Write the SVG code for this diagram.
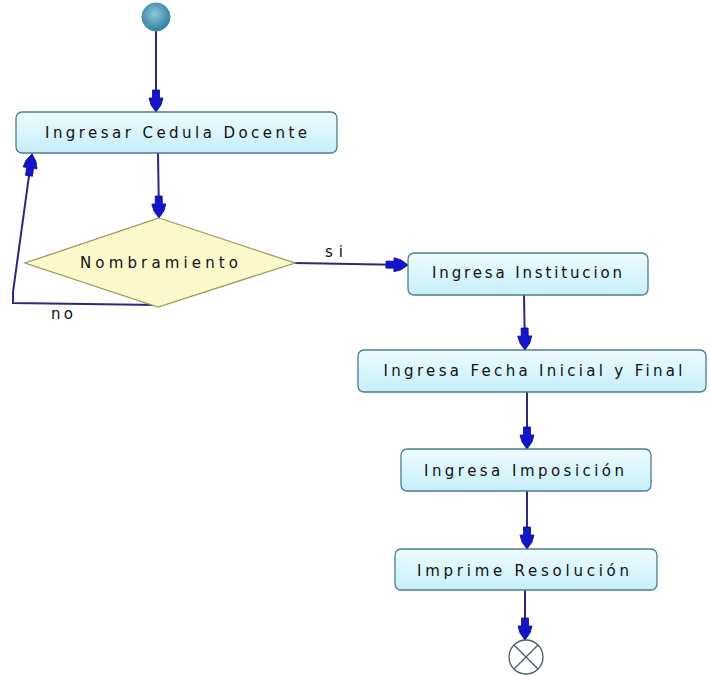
<svg xmlns="http://www.w3.org/2000/svg" width="710" height="676" viewBox="0 0 710 676">
  <defs>
    <linearGradient id="actFill" x1="0" y1="0" x2="0" y2="1">
      <stop offset="0" stop-color="#eefcfe"/>
      <stop offset="1" stop-color="#c6eef8"/>
    </linearGradient>
    <radialGradient id="startFill" cx="0.45" cy="0.4" r="0.6">
      <stop offset="0" stop-color="#8cc8dc"/>
      <stop offset="1" stop-color="#2f7fa0"/>
    </radialGradient>
    <marker id="arrow" markerUnits="userSpaceOnUse" markerWidth="26" markerHeight="18" viewBox="-23 -9 26 18" refX="0" refY="0" orient="auto">
      <path d="M0,0 L-7,-5 L-14,-7 L-14,-3.5 L-22,-3.5 L-22,3.5 L-14,3.5 L-14,7 L-7,5 Z" fill="#1414c8" stroke="#0a0a90" stroke-width="0.8"/>
    </marker>
    <style>
      .act { fill: url(#actFill); stroke: #4d7d8c; stroke-width: 1.3; }
      .dec { fill: #fbf8cc; stroke: #9c9a5a; stroke-width: 1.3; }
      .lbl { font-family: "DejaVu Sans", Verdana, sans-serif; font-size: 15px; fill: #111111; text-anchor: middle; }
      .guard { font-family: "DejaVu Sans", Verdana, sans-serif; font-size: 15px; fill: #111111; }
      .flow { fill: none; stroke: #2a2a7a; stroke-width: 2; marker-end: url(#arrow); }
    </style>
  </defs>
  <rect width="710" height="676" fill="#ffffff"/>

  <g id="connectors">
    <line class="flow" x1="156" y1="31" x2="156" y2="112"/>
    <line class="flow" x1="158" y1="153" x2="159" y2="218"/>
    <polyline class="flow" points="158,305 13,303 13,292 32,154"/>
    <line class="flow" x1="295" y1="263" x2="408" y2="265"/>
    <line class="flow" x1="524" y1="295" x2="525" y2="350"/>
    <line class="flow" x1="527" y1="392" x2="527" y2="449"/>
    <line class="flow" x1="527" y1="491" x2="527" y2="549"/>
    <line class="flow" x1="525" y1="590" x2="525" y2="640"/>
    <text class="guard" x="325" y="257" textLength="18" lengthAdjust="spacing">si</text>
    <text class="guard" x="51" y="319" textLength="22" lengthAdjust="spacing">no</text>
  </g>

  <g id="start">
    <circle cx="156" cy="17" r="14" fill="url(#startFill)" stroke="#4a8aa4" stroke-width="1"/>
  </g>

  <g id="ingresar-cedula">
    <rect class="act" x="16" y="112" width="321" height="41" rx="6"/>
    <text class="lbl" x="176" y="138" textLength="262" lengthAdjust="spacing">Ingresar Cedula Docente</text>
  </g>

  <g id="nombramiento">
    <polygon class="dec" points="159,218 295,263 158,307 25,263"/>
    <text class="lbl" x="159" y="268" textLength="158" lengthAdjust="spacing">Nombramiento</text>
  </g>

  <g id="ingresa-institucion">
    <rect class="act" x="408" y="253" width="240" height="42" rx="6"/>
    <text class="lbl" x="527" y="278" textLength="190" lengthAdjust="spacing">Ingresa Institucion</text>
  </g>

  <g id="ingresa-fecha">
    <rect class="act" x="358" y="350" width="348" height="42" rx="6"/>
    <text class="lbl" x="533" y="376" textLength="299" lengthAdjust="spacing">Ingresa Fecha Inicial y Final</text>
  </g>

  <g id="ingresa-imposicion">
    <rect class="act" x="401" y="449" width="250" height="42" rx="6"/>
    <text class="lbl" x="524" y="476" textLength="200" lengthAdjust="spacing">Ingresa Imposición</text>
  </g>

  <g id="imprime-resolucion">
    <rect class="act" x="395" y="549" width="262" height="41" rx="6"/>
    <text class="lbl" x="523" y="576" textLength="212" lengthAdjust="spacing">Imprime Resolución</text>
  </g>

  <g id="end">
    <circle cx="526" cy="657" r="17" fill="#ffffff" stroke="#4a5a6a" stroke-width="1.3"/>
    <line x1="514" y1="645" x2="538" y2="669" stroke="#4a5a6a" stroke-width="1.3"/>
    <line x1="538" y1="645" x2="514" y2="669" stroke="#4a5a6a" stroke-width="1.3"/>
  </g>
</svg>
